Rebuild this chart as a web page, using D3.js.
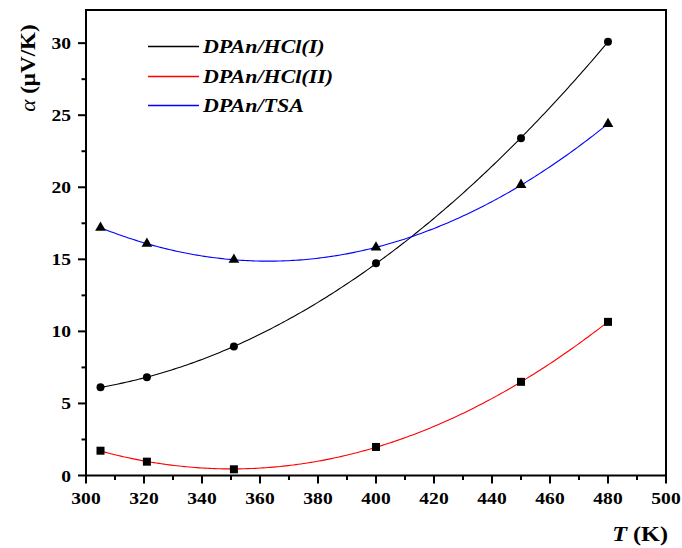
<!DOCTYPE html>
<html>
<head>
<meta charset="utf-8">
<script src="https://cdn.jsdelivr.net/npm/d3@7"></script>
<style>
  html, body { margin: 0; padding: 0; background: #fff; }
  svg { display: block; }
</style>
</head>
<body>
<svg id="chart" width="682" height="548"></svg>
<script>
// Measured temperatures (K)
const temperatures = [305, 321, 351, 400, 450, 480];

// Seebeck coefficient (µV/K) for each sample
const seriesNames = ["DPAn/HCl(I)", "DPAn/HCl(II)", "DPAn/TSA"];
const hclI  = [6.12, 6.82, 8.95, 14.73, 23.4, 30.1];
const hclII = [1.72, 0.96, 0.43, 1.98, 6.5, 10.66];
const tsa   = [17.2, 16.08, 14.97, 15.82, 20.17, 24.39];

const xTicks = [300, 320, 340, 360, 380, 400, 420, 440, 460, 480, 500];
const yTicks = [0, 5, 10, 15, 20, 25, 30];

const series = [
  { name: seriesNames[0], values: hclI,  color: "#000000", marker: "circle" },
  { name: seriesNames[1], values: hclII, color: "#ff0000", marker: "square" },
  { name: seriesNames[2], values: tsa,   color: "#0000ff", marker: "triangle" }
];

const FONT = "'Liberation Serif', 'Times New Roman', Times, serif";
const WIDE = 1.15;   // slightly widened lettering

const svg = d3.select("#chart");
const plotLeft = 86, plotRight = 666, plotTop = 10, plotBottom = 475.5;

const x = d3.scaleLinear().domain([300, 500]).range([plotLeft, plotRight]);
const y = d3.scaleLinear().domain([0, 32.3]).range([plotBottom, plotTop]);

// Least-squares quadratic fit: returns f(t) = a + b u + c u^2, u = t - mean
function quadFit(xs, ys) {
  const x0 = d3.mean(xs);
  const u = xs.map(v => v - x0);
  const s = k => d3.sum(u, v => Math.pow(v, k));
  const t = k => d3.sum(u.map((v, i) => Math.pow(v, k) * ys[i]));
  const M = [[s(0), s(1), s(2)], [s(1), s(2), s(3)], [s(2), s(3), s(4)]];
  const R = [t(0), t(1), t(2)];
  for (let i = 0; i < 3; i++) {
    for (let j = i + 1; j < 3; j++) {
      const f = M[j][i] / M[i][i];
      for (let k = i; k < 3; k++) M[j][k] -= f * M[i][k];
      R[j] -= f * R[i];
    }
  }
  const c = [0, 0, 0];
  for (let i = 2; i >= 0; i--) {
    let acc = R[i];
    for (let k = i + 1; k < 3; k++) acc -= M[i][k] * c[k];
    c[i] = acc / M[i][i];
  }
  return tv => c[0] + c[1] * (tv - x0) + c[2] * (tv - x0) * (tv - x0);
}

// Fitted curves
const tMin = d3.min(temperatures), tMax = d3.max(temperatures);
const samples = d3.range(0, 201).map(i => tMin + (tMax - tMin) * i / 200);
const line = d3.line().x(d => x(d[0])).y(d => y(d[1]));

series.forEach(s => {
  const f = quadFit(temperatures, s.values);
  svg.append("path")
    .attr("d", line(samples.map(tv => [tv, f(tv)])))
    .attr("fill", "none")
    .attr("stroke", s.color)
    .attr("stroke-width", 1.1);
});

// Markers
const triangle = d3.symbol().type(d3.symbolTriangle).size(50);
series.forEach(s => {
  const g = svg.append("g");
  s.values.forEach((v, i) => {
    const cx = x(temperatures[i]), cy = y(v);
    if (s.marker === "circle") {
      g.append("circle").attr("cx", cx).attr("cy", cy).attr("r", 4);
    } else if (s.marker === "square") {
      g.append("rect").attr("x", cx - 4).attr("y", cy - 4).attr("width", 8).attr("height", 8);
    } else {
      g.append("path").attr("d", triangle()).attr("transform", `translate(${cx},${cy})`);
    }
  });
  g.selectAll("*").attr("fill", "#000");
});

// Frame
svg.append("rect")
  .attr("x", plotLeft).attr("y", plotTop)
  .attr("width", plotRight - plotLeft).attr("height", plotBottom - plotTop)
  .attr("fill", "none").attr("stroke", "#000").attr("stroke-width", 2);

// Bottom axis
const xAxis = svg.append("g").attr("transform", `translate(0,${plotBottom})`);
xAxis.selectAll("line.major").data(xTicks).join("line").attr("class", "major")
  .attr("x1", d => x(d)).attr("x2", d => x(d)).attr("y1", 0).attr("y2", 8)
  .attr("stroke", "#000").attr("stroke-width", 2);
xAxis.selectAll("line.minor").data(d3.range(310, 500, 20)).join("line").attr("class", "minor")
  .attr("x1", d => x(d)).attr("x2", d => x(d)).attr("y1", 0).attr("y2", 4.5)
  .attr("stroke", "#000").attr("stroke-width", 2);
xAxis.selectAll("text").data(xTicks).join("text")
  .attr("transform", d => `translate(${x(d)},28.5) scale(${WIDE},1)`)
  .attr("text-anchor", "middle")
  .attr("font-family", FONT)
  .attr("font-size", 17).attr("font-weight", "bold")
  .text(d => d);

// Left axis
const yAxis = svg.append("g").attr("transform", `translate(${plotLeft},0)`);
yAxis.selectAll("line.major").data(yTicks).join("line").attr("class", "major")
  .attr("y1", d => y(d)).attr("y2", d => y(d)).attr("x1", 0).attr("x2", -8)
  .attr("stroke", "#000").attr("stroke-width", 2);
yAxis.selectAll("line.minor").data(d3.range(2.5, 32, 5)).join("line").attr("class", "minor")
  .attr("y1", d => y(d)).attr("y2", d => y(d)).attr("x1", 0).attr("x2", -4.5)
  .attr("stroke", "#000").attr("stroke-width", 2);
yAxis.selectAll("text").data(yTicks).join("text")
  .attr("transform", d => `translate(-15,${y(d) + 6}) scale(${WIDE},1)`)
  .attr("text-anchor", "end")
  .attr("font-family", FONT)
  .attr("font-size", 17).attr("font-weight", "bold")
  .text(d => d);

// Axis titles
const xt = svg.append("text")
  .attr("transform", "translate(668,541) scale(1.1,1)")
  .attr("text-anchor", "end")
  .attr("font-family", FONT)
  .attr("font-size", 22).attr("font-weight", "bold");
xt.append("tspan").attr("font-style", "italic").text("T");
xt.append("tspan").text(" (K)");

const yt = svg.append("text")
  .attr("transform", "translate(35,68) rotate(-90) scale(1.05,1)")
  .attr("text-anchor", "middle")
  .attr("font-family", FONT)
  .attr("font-size", 22);
yt.append("tspan").attr("font-style", "italic").text("α");
yt.append("tspan").attr("font-weight", "bold").text(" (μV/K)");

// Legend
const legend = svg.append("g");
series.forEach((s, i) => {
  const ly = Math.round(46 + i * 29.5) + 0.5;
  legend.append("line")
    .attr("x1", 148).attr("x2", 199).attr("y1", ly).attr("y2", ly)
    .attr("stroke", s.color).attr("stroke-width", 1.4);
  legend.append("text")
    .attr("transform", `translate(203,${ly + 6.5}) scale(1.22,1)`)
    .attr("font-family", FONT)
    .attr("font-size", 18).attr("font-weight", "bold").attr("font-style", "italic")
    .text(s.name);
});
</script>
</body>
</html>
